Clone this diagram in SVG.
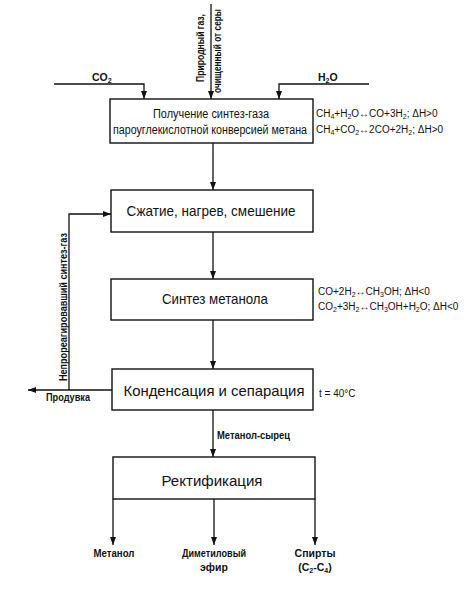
<svg xmlns="http://www.w3.org/2000/svg" width="474" height="591" viewBox="0 0 474 591">
<style>
text{font-family:"Liberation Sans","Open Sans",sans-serif;fill:#111}
.box{fill:#fff;stroke:#111;stroke-width:1.4}
.ln{fill:none;stroke:#111;stroke-width:1.3}
.t{font-size:15px;text-anchor:middle}
.t1{font-size:12.5px;text-anchor:middle}
.eq{font-size:10px}
.lb{font-size:10.5px;font-weight:bold}
.s{font-size:7px}
</style>
<defs>
<marker id="ar" viewBox="0 0 8 6" refX="8" refY="3" markerWidth="8" markerHeight="6" markerUnits="userSpaceOnUse" orient="auto">
<path d="M0,0 L8,3 L0,6 z" fill="#111"/>
</marker>
</defs>
<g id="connectors">
<path class="ln" d="M211,4 V99" marker-end="url(#ar)"/>
<path class="ln" d="M54,84 H144 V99" marker-end="url(#ar)"/>
<path class="ln" d="M369,84 H279 V99" marker-end="url(#ar)"/>
<path class="ln" d="M213,143 V190" marker-end="url(#ar)"/>
<path class="ln" d="M213,232 V279" marker-end="url(#ar)"/>
<path class="ln" d="M213,320 V369" marker-end="url(#ar)"/>
<path class="ln" d="M213,410 V457" marker-end="url(#ar)"/>
<path class="ln" d="M112,390 H28" marker-end="url(#ar)"/>
<path class="ln" d="M69,390 V214 H111" marker-end="url(#ar)"/>
<path class="ln" d="M113,499 V545" marker-end="url(#ar)"/>
<path class="ln" d="M214,499 V545" marker-end="url(#ar)"/>
<path class="ln" d="M315,499 V545" marker-end="url(#ar)"/>
<text class="lb" transform="translate(204,48) rotate(-90)" text-anchor="middle" textLength="68" lengthAdjust="spacingAndGlyphs">Природный газ,</text>
<text class="lb" transform="translate(221,51) rotate(-90)" text-anchor="middle" textLength="84" lengthAdjust="spacingAndGlyphs">очищенный от серы</text>
<text class="lb" x="92" y="81">CO<tspan class="s" dy="2">2</tspan></text>
<text class="lb" x="318" y="81">H<tspan class="s" dy="2">2</tspan><tspan dy="-2">O</tspan></text>
<text class="lb" transform="translate(67,307) rotate(-90)" text-anchor="middle" textLength="148" lengthAdjust="spacingAndGlyphs">Непрореагировавший синтез-газ</text>
<text class="lb" x="46" y="401" textLength="44" lengthAdjust="spacingAndGlyphs">Продувка</text>
<text class="lb" x="217" y="439" textLength="73" lengthAdjust="spacingAndGlyphs">Метанол-сырец</text>
</g>
<g id="n1">
<rect class="box" x="110" y="99" width="203" height="44"/>
<text class="t1" x="211" y="118" textLength="116" lengthAdjust="spacingAndGlyphs">Получение синтез-газа</text>
<text class="t1" x="210" y="134" textLength="194" lengthAdjust="spacingAndGlyphs">пароуглекислотной конверсией метана</text>
<text class="eq" x="316" y="117">CH<tspan class="s" dy="1.5">4</tspan><tspan dy="-1.5">+H</tspan><tspan class="s" dy="1.5">2</tspan><tspan dy="-1.5">O↔CO+3H</tspan><tspan class="s" dy="1.5">2</tspan><tspan dy="-1.5">; ΔH&gt;0</tspan></text>
<text class="eq" x="316" y="133">CH<tspan class="s" dy="1.5">4</tspan><tspan dy="-1.5">+CO</tspan><tspan class="s" dy="1.5">2</tspan><tspan dy="-1.5">↔2CO+2H</tspan><tspan class="s" dy="1.5">2</tspan><tspan dy="-1.5">; ΔH&gt;0</tspan></text>
</g>
<g id="n2">
<rect class="box" x="111" y="190" width="202" height="42"/>
<text class="t" x="211" y="216" textLength="169" lengthAdjust="spacingAndGlyphs">Сжатие, нагрев, смешение</text>
</g>
<g id="n3">
<rect class="box" x="111" y="279" width="202" height="41"/>
<text class="t" x="215" y="304" textLength="106" lengthAdjust="spacingAndGlyphs">Синтез метанола</text>
<text class="eq" x="318" y="295">CO+2H<tspan class="s" dy="1.5">2</tspan><tspan dy="-1.5">↔CH</tspan><tspan class="s" dy="1.5">3</tspan><tspan dy="-1.5">OH; ΔH&lt;0</tspan></text>
<text class="eq" x="318" y="310">CO<tspan class="s" dy="1.5">2</tspan><tspan dy="-1.5">+3H</tspan><tspan class="s" dy="1.5">2</tspan><tspan dy="-1.5">↔CH</tspan><tspan class="s" dy="1.5">3</tspan><tspan dy="-1.5">OH+H</tspan><tspan class="s" dy="1.5">2</tspan><tspan dy="-1.5">O; ΔH&lt;0</tspan></text>
</g>
<g id="n4">
<rect class="box" x="112" y="369" width="201" height="41"/>
<text class="t" x="214" y="396" font-size="16" textLength="181" lengthAdjust="spacingAndGlyphs">Конденсация и сепарация</text>
<text class="eq" x="319" y="397">t = 40°C</text>
</g>
<g id="n5">
<rect class="box" x="113" y="457" width="202" height="42"/>
<text class="t" x="212" y="486" font-size="16" textLength="101" lengthAdjust="spacingAndGlyphs">Ректификация</text>
</g>
<g id="outputs">
<text class="lb" x="114" y="557" text-anchor="middle" textLength="41" lengthAdjust="spacingAndGlyphs">Метанол</text>
<text class="lb" x="214" y="557" text-anchor="middle" textLength="64" lengthAdjust="spacingAndGlyphs">Диметиловый</text>
<text class="lb" x="214" y="571" text-anchor="middle">эфир</text>
<text class="lb" x="315" y="557" text-anchor="middle">Спирты</text>
<text class="lb" x="315" y="571" text-anchor="middle">(C<tspan class="s" dy="2">2</tspan><tspan dy="-2">-C</tspan><tspan class="s" dy="2">4</tspan><tspan dy="-2">)</tspan></text>
</g>
</svg>
